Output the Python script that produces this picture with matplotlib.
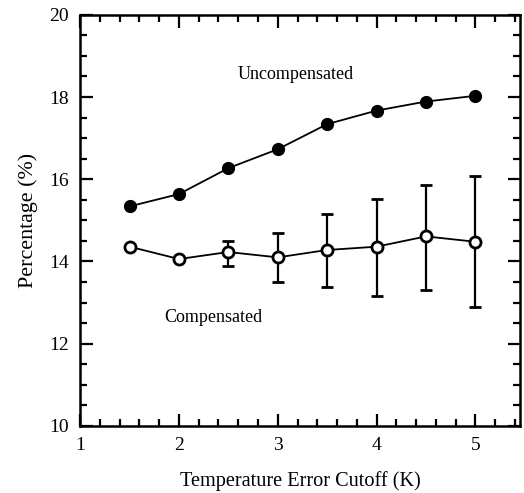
import numpy as np
import matplotlib.pyplot as plt
from matplotlib.ticker import MultipleLocator

plt.rcParams['font.family'] = ['Liberation Serif', 'DejaVu Serif']

# values
cutoff = [1.5, 2.0, 2.5, 3.0, 3.5, 4.0, 4.5, 5.0]
uncomp = [15.34, 15.64, 16.27, 16.73, 17.34, 17.67, 17.89, 18.03]
comp = [14.36, 14.06, 14.23, 14.10, 14.28, 14.36, 14.61, 14.48]
comp_err_lo = [0.0, 0.0, 0.34, 0.59, 0.89, 1.19, 1.30, 1.58]
comp_err_hi = [0.0, 0.0, 0.27, 0.59, 0.88, 1.16, 1.25, 1.60]

fig = plt.figure(figsize=(5.24, 4.93), dpi=100)
ax = fig.add_axes([0.153, 0.136, 0.839, 0.834])

ax.plot(cutoff, uncomp, '-o', color='black', lw=1.3, ms=8.5,
        mfc='black', mec='black')
ax.errorbar(cutoff, comp, yerr=[comp_err_lo, comp_err_hi], fmt='-o',
            color='black', lw=1.3, ms=8, mfc='white', mec='black', mew=2,
            ecolor='black', elinewidth=1.6, capsize=4, capthick=1.6)

ax.text(3.18, 18.55, 'Uncompensated', ha='center', va='center', fontsize=13)
ax.text(2.35, 12.63, 'Compensated', ha='center', va='center', fontsize=13)

ax.set_xlim(1, 5.45)
ax.set_ylim(10, 20)
ax.xaxis.set_major_locator(MultipleLocator(1))
ax.xaxis.set_minor_locator(MultipleLocator(0.2))
ax.yaxis.set_major_locator(MultipleLocator(2))
ax.yaxis.set_minor_locator(MultipleLocator(0.5))
ax.tick_params(which='both', direction='in', top=True, right=True,
               width=1.6, labelsize=14, pad=8)
ax.tick_params(which='major', length=9)
ax.tick_params(which='minor', length=5)
for s in ax.spines.values():
    s.set_linewidth(1.8)

ax.set_xlabel('Temperature Error Cutoff (K)', fontsize=14.6, labelpad=12.5)
ax.set_ylabel('Percentage (%)', fontsize=15.8, labelpad=8)

fig.savefig('out.png', dpi=100)
